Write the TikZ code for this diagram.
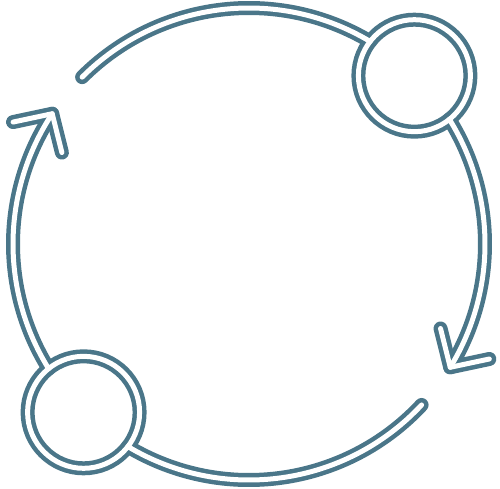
\documentclass[tikz,border=0pt]{standalone}
\usetikzlibrary{calc}
\definecolor{cycleblue}{HTML}{4A7689}

\begin{document}
\begin{tikzpicture}[x=1pt,y=1pt,
  outline/.style={draw=cycleblue,line width=14pt,line cap=round,line join=round},
  core/.style={draw=white,line width=5pt,line cap=round,line join=round}]
\useasboundingbox (0,0) rectangle (500,488);
\coordinate (O) at (249,244);
\coordinate (top ring) at ($(O)+(45.5:236)$);
\coordinate (bottom ring) at ($(O)+(225.5:236)$);
\coordinate (right tip) at ($(O)+(-31.5:236)$);
\coordinate (left tip) at ($(O)+(146.5:236)$);

% first the blue strokes, then the white cores on top
\foreach \layer in {outline,core}{
  \draw[\layer] (O) ++(31.9:236) arc[start angle=31.9,end angle=-31.5,radius=236];
  \draw[\layer] (right tip) ++(104:40) -- (right tip) -- +(12:40);
  \draw[\layer] (O) ++(211.9:236) arc[start angle=211.9,end angle=146.5,radius=236];
  \draw[\layer] (left tip) ++(284:40) -- (left tip) -- +(192:40);
  \draw[\layer] (O) ++(59.1:236) arc[start angle=59.1,end angle=135,radius=236];
  \draw[\layer] (O) ++(239.1:236) arc[start angle=239.1,end angle=317,radius=236];
  \draw[\layer] (top ring) circle[radius=56];
  \draw[\layer] (bottom ring) circle[radius=56];
}
\end{tikzpicture}
\end{document}
